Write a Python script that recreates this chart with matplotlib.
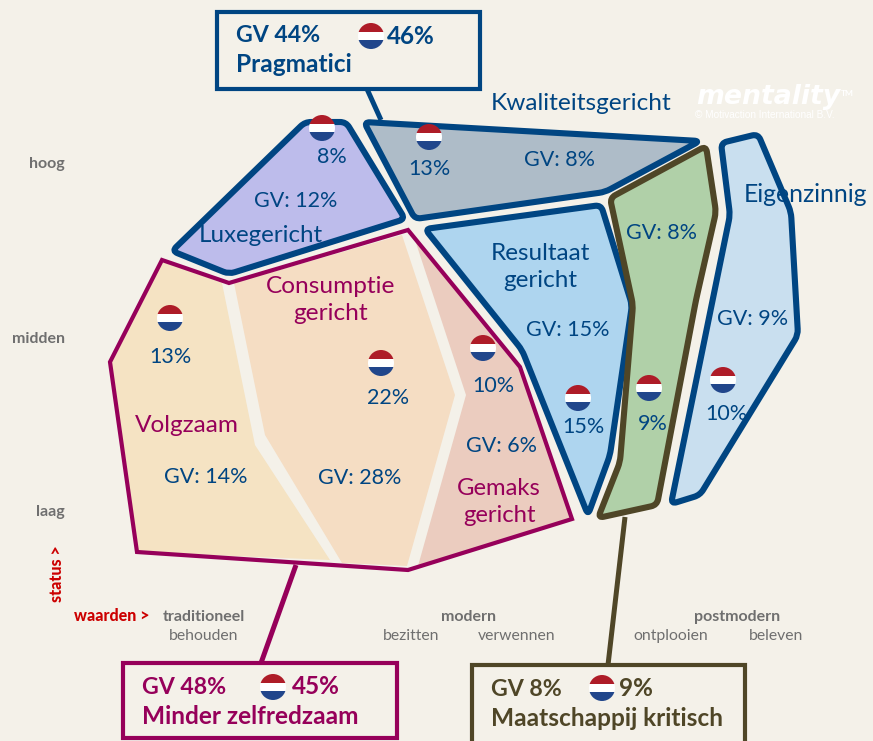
import numpy as np
import matplotlib
matplotlib.use("Agg")
import matplotlib.pyplot as plt
from matplotlib.patches import Polygon, Circle, Rectangle, PathPatch
from matplotlib.path import Path

plt.rcParams["font.family"] = ["Lato", "DejaVu Sans"]

W, H = 873, 741
BG = "#f4f1e9"
NAVY = "#004582"
PLUM = "#96005a"
OLIVE = "#4f4627"
GREY = "#6f6f6f"
RED = "#cc0000"

# segment values
SEGMENTS = ["Luxegericht", "Kwaliteitsgericht", "Resultaat\ngericht", "Eigenzinnig",
            "Volgzaam", "Consumptie\ngericht", "Gemaks\ngericht"]
GV_SHARE = [12, 8, 15, 9, 14, 28, 6]
NL_SHARE = [8, 13, 15, 10, 13, 22, 10]
GROEN_GV, GROEN_NL = 8, 9

STATUS_LABELS = ["hoog", "midden", "laag"]
WAARDEN_TOP = ["traditioneel", "modern", "postmodern"]
WAARDEN_SUB = ["behouden", "bezitten", "verwennen", "ontplooien", "beleven"]

# outlines in picture pixels
LUXE = [(172, 251), (305, 122), (346, 122), (405, 219), (229, 274)]
KWAL = [(364, 122), (700, 141), (605, 192), (415, 219)]
RESULT = [(425, 229), (601, 205), (632, 305), (610, 455), (588, 515), (522, 350)]
GROEN = [(610, 198), (706, 146), (716, 212), (696, 300), (657, 505), (598, 518), (620, 462), (633, 305)]
EIGEN = [(721, 143), (758, 134), (791, 212), (798, 335), (700, 495), (671, 504), (730, 215)]
VOLG = [(162, 260), (222, 283), (255, 445), (330, 560), (137, 552), (110, 362)]
CONS = [(234, 283), (402, 235), (455, 395), (407, 566), (342, 563), (265, 435)]
GEMAK = [(415, 240), (520, 367), (572, 519), (418, 566), (466, 395)]
PLUM_RAND = [(162, 260), (229, 283), (408, 230), (520, 367), (572, 519), (408, 570), (137, 552), (110, 362)]

FLAGS = [(322, 128), (429, 137), (170, 318), (381, 363), (483, 348), (578, 398),
         (649, 388), (723, 380), (371, 36), (273, 687), (602, 688)]


def rounded_path(pts, r=6):
    # polygon with every corner cut by a small quadratic curve
    pts = np.array(pts, dtype=float)
    n = len(pts)
    verts, codes = [], []
    for i in range(n):
        p, prev, nxt = pts[i], pts[i - 1], pts[(i + 1) % n]
        a = p + (prev - p) / np.linalg.norm(prev - p) * r
        b = p + (nxt - p) / np.linalg.norm(nxt - p) * r
        verts.append(a)
        codes.append(Path.MOVETO if i == 0 else Path.LINETO)
        verts += [p, b]
        codes += [Path.CURVE3, Path.CURVE3]
    verts.append(verts[0])
    codes.append(Path.CLOSEPOLY)
    return Path(verts, codes)


def draw_flag(ax, x, y, r=13):
    clip = Circle((x, y), r, transform=ax.transData)
    band = 2 * r / 3
    for i, col in enumerate(["#ae1c28", "#ffffff", "#21468b"]):
        rect = Rectangle((x - r, y - r + i * band), 2 * r, band, fc=col, ec="none", zorder=6)
        ax.add_patch(rect)
        rect.set_clip_path(clip)


def region(ax, pts, fill, edge, z=2):
    ax.add_patch(PathPatch(rounded_path(pts), fc=fill, ec=edge, lw=4.4, joinstyle="round", zorder=z))


def callout(ax, box, edge, line, top, name, nl, nl_x):
    x0, y0, x1, y1 = box
    ax.plot([line[0], line[2]], [line[1], line[3]], color=edge, lw=3.6, zorder=1, solid_capstyle="butt")
    ax.add_patch(Rectangle((x0, y0), x1 - x0, y1 - y0, fc=BG, ec=edge, lw=3.0, zorder=3))
    ax.text(x0 + 19, y0 + 24, top, color=edge, fontsize=16.7, fontweight="bold", va="center", zorder=7)
    ax.text(nl_x, y0 + 24, nl, color=edge, fontsize=17.5, fontweight="bold", va="center", zorder=7)
    ax.text(x0 + 19, y0 + 53, name, color=edge, fontsize=17.6, fontweight="bold", va="center", zorder=7)


fig = plt.figure(figsize=(W / 100, H / 100), dpi=100, facecolor=BG)
ax = fig.add_axes([0, 0, 1, 1])
ax.set_xlim(0, W)
ax.set_ylim(H, 0)
ax.axis("off")

region(ax, LUXE, "#bdbceb", NAVY)
region(ax, KWAL, "#aebcc8", NAVY)
region(ax, RESULT, "#aed5ef", NAVY)
region(ax, EIGEN, "#c9dfef", NAVY)
region(ax, GROEN, "#b0d0a8", OLIVE, z=3)

for pts, col in [(VOLG, "#f5e3c3"), (CONS, "#f5ddc3"), (GEMAK, "#ebccbf")]:
    ax.add_patch(Polygon(pts, closed=True, fc=col, ec="none", zorder=2))
ax.add_patch(Polygon(PLUM_RAND, closed=True, fc="none", ec=PLUM, lw=3.0, joinstyle="miter", zorder=3))

for x, y in FLAGS:
    draw_flag(ax, x, y)

SEG_POS = [(261, 236), (581, 104), (540, 267), (806, 194), (187, 426), (331, 300), (499, 502)]
SEG_SIZE = [17.4, 17.6, 17.5, 17.8, 17.6, 17.6, 17.2]
GV_POS = [(296, 201), (560, 160), (568, 330), (753, 319), (206, 477), (360, 478), (501, 446)]
NL_POS = [(332, 157), (429, 169), (583, 427), (726, 414), (170, 357), (388, 398), (493, 386)]
SEG_COL = [NAVY, NAVY, NAVY, NAVY, PLUM, PLUM, PLUM]

for name, col, (x, y), size in zip(SEGMENTS, SEG_COL, SEG_POS, SEG_SIZE):
    ax.text(x, y, name, color=col, fontsize=size, ha="center", va="center", linespacing=1.3, zorder=7)
for v, (x, y) in zip(GV_SHARE, GV_POS):
    ax.text(x, y, f"GV: {v}%", color=NAVY, fontsize=15.5, ha="center", va="center", zorder=7)
for v, (x, y) in zip(NL_SHARE, NL_POS):
    ax.text(x, y, f"{v}%", color=NAVY, fontsize=15.5, ha="center", va="center", zorder=7)
ax.text(662, 233, f"GV: {GROEN_GV}%", color=NAVY, fontsize=15.5, ha="center", va="center", zorder=7)
ax.text(653, 424, f"{GROEN_NL}%", color=NAVY, fontsize=15.5, ha="center", va="center", zorder=7)

callout(ax, (217, 12, 480, 89), NAVY, (367, 89, 381, 120), "GV 44%", "Pragmatici", "46%", 387)
callout(ax, (123, 663, 397, 738), PLUM, (296, 565, 261, 663), "GV 48%", "Minder zelfredzaam", "45%", 292)
callout(ax, (472, 665, 745, 745), OLIVE, (625, 517, 608, 665), "GV 8%", "Maatschappij kritisch", "9%", 619)

for lab, y in zip(STATUS_LABELS, [164, 339, 512]):
    ax.text(65, y, lab, color=GREY, fontsize=11.5, fontweight="bold", ha="right", va="center")
for lab, x in zip(WAARDEN_TOP, [204, 469, 737]):
    ax.text(x, 617, lab, color=GREY, fontsize=11.5, fontweight="bold", ha="center", va="center")
for lab, x in zip(WAARDEN_SUB, [204, 411, 517, 671, 776]):
    ax.text(x, 636, lab, color=GREY, fontsize=11.3, ha="center", va="center")

ax.text(57, 574, "status >", color=RED, fontsize=11.5, fontweight="black", rotation=90, ha="center", va="center")
ax.text(112, 616, "waarden >", color=RED, fontsize=11.5, fontweight="black", ha="center", va="center")

ax.text(696, 97, "mentality", color="white", fontsize=19.3, fontweight="bold", style="italic",
        family="DejaVu Sans", ha="left", va="center", zorder=1)
ax.text(841, 93, "TM", color="white", fontsize=6, fontweight="bold", ha="left", va="center", zorder=1)
ax.text(695, 115, "© Motivaction International B.V.", color="white", fontsize=7.2,
        family="Liberation Sans", ha="left", va="center", zorder=1)

fig.savefig("out.png", dpi=100, facecolor=BG)
